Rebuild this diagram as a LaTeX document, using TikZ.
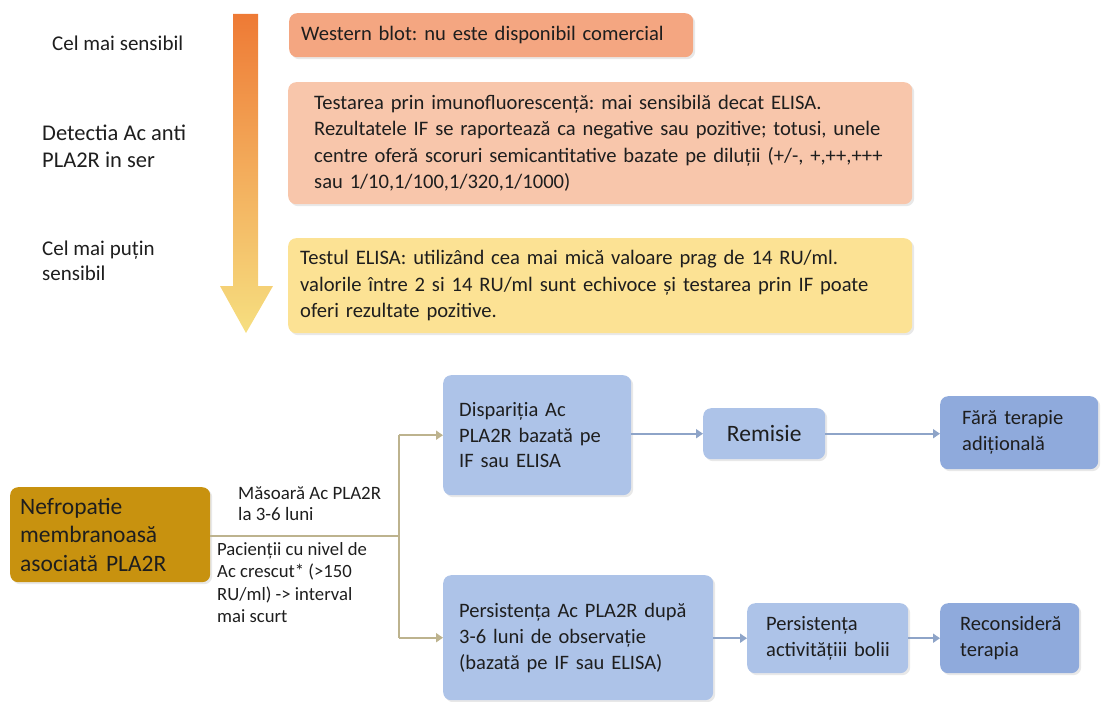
\documentclass[tikz,border=0pt]{standalone}
\usepackage{fontspec}
\setmainfont{Carlito}
\frenchspacing
\usetikzlibrary{arrows.meta,shadows}
\definecolor{ink}{HTML}{1E1E1E}
\definecolor{arrtop}{HTML}{EE7A35}
\definecolor{arrmid}{HTML}{F3AD5C}
\definecolor{arrbot}{HTML}{F6DF80}
\definecolor{wbfill}{HTML}{F4A681}
\definecolor{iffill}{HTML}{F8C6AB}
\definecolor{elfill}{HTML}{FCE294}
\definecolor{nmfill}{HTML}{C8920F}
\definecolor{lblue}{HTML}{ADC3E8}
\definecolor{dblue}{HTML}{8FAADC}
\definecolor{barrow}{HTML}{8EA4C8}
\definecolor{tan}{HTML}{BDB38E}
\begin{document}
\begin{tikzpicture}[x=1pt,y=-1pt,
  box/.style={rounded corners=8pt, anchor=north west, align=left, text=ink,
    inner ysep=0pt, drop shadow={opacity=0.18, shadow xshift=2pt, shadow yshift=-2pt}},
  toptext/.style={font=\fontsize{20.6}{26.6}\selectfont},
  flowtext/.style={font=\fontsize{20.5}{26}\selectfont},
  lbl/.style={anchor=north west, align=left, text=ink, inner sep=0pt},
  tanline/.style={draw=tan, line width=2.4pt},
  tanarrow/.style={tanline, -{Triangle[length=7pt,width=9pt]}},
  bluearrow/.style={draw=barrow, line width=2.4pt, -{Triangle[length=7pt,width=9pt]}}
]
\useasboundingbox (0,0) rectangle (1102,701);

% sensitivity gradient arrow
\shade[top color=arrtop, bottom color=arrbot, middle color=arrmid]
  (233,14) -- (258,14) -- (258,286) -- (273,286) -- (246,333) -- (220,286) -- (233,286) -- cycle;

% left labels
\node[lbl, font=\fontsize{21}{25}\selectfont] (most) at (52,36) {Cel mai sensibil};
\node[lbl, font=\fontsize{22.5}{26.5}\selectfont] (detect) at (42,125) {Detectia Ac anti\\PLA2R in ser};
\node[lbl, font=\fontsize{21}{25}\selectfont] (least) at (42,241) {Cel mai puțin\\sensibil};

% test boxes
\node[box, toptext, fill=wbfill, minimum width=400pt, minimum height=44pt,
  text width=380pt, inner xsep=12pt] (wb) at (289,13)
  {\raisebox{4pt}{Western blot: nu este disponibil comercial}};
\node[box, toptext, fill=iffill, minimum width=624pt, minimum height=122pt,
  text width=572pt, inner xsep=26pt] (ifbox) at (288,82)
  {Testarea prin imunofluorescență: mai sensibilă decat ELISA.\\
   Rezultatele IF se raportează ca negative sau pozitive; totusi, unele\\
   centre oferă scoruri semicantitative bazate pe diluții (+/-, +,++,+++\\
   sau 1/10,1/100,1/320,1/1000)};
\node[box, toptext, fill=elfill, minimum width=624pt, minimum height=95pt,
  text width=600pt, inner xsep=12pt] (elisa) at (288,238)
  {Testul ELISA: utilizând cea mai mică valoare prag de 14 RU/ml.\\
   valorile între 2 si 14 RU/ml sunt echivoce și testarea prin IF poate\\
   oferi rezultate pozitive.};

% follow-up flow
\node[box, fill=nmfill, font=\fontsize{23.5}{28.5}\selectfont, minimum width=198pt,
  minimum height=95pt, text width=180pt, inner xsep=10pt] (nm) at (10,487)
  {Nefropatie\\membranoasă\\asociată PLA2R};

\node[box, fill=lblue, font=\fontsize{20.5}{25.3}\selectfont, minimum width=188pt,
  minimum height=120pt, text width=156pt, inner xsep=16pt] (disp) at (443,375)
  {Dispariția Ac\\PLA2R bazată pe\\IF sau ELISA};
\node[box, fill=lblue, font=\fontsize{23.5}{28}\selectfont, minimum width=122pt,
  minimum height=51pt, text width=122pt, inner xsep=0pt, align=center] (rem) at (703,408)
  {Remisie};
\node[box, flowtext, fill=dblue, minimum width=158pt, minimum height=73pt,
  text width=114pt, inner xsep=22pt] (fara) at (940,396)
  {Fără terapie\\adițională};

\node[box, flowtext, fill=lblue, minimum width=270pt, minimum height=125pt,
  text width=238pt, inner xsep=16pt] (pers) at (443,575)
  {Persistența Ac PLA2R după\\3-6 luni de observație\\(bazată pe IF sau ELISA)};
\node[box, flowtext, fill=lblue, minimum width=161pt, minimum height=70pt,
  text width=123pt, inner xsep=19pt] (act) at (747,603)
  {Persistența\\\mbox{activitățiii bolii}};
\node[box, flowtext, fill=dblue, minimum width=139pt, minimum height=70pt,
  text width=99pt, inner xsep=20pt] (rec) at (940,603)
  {\mbox{Reconsideră}\\terapia};

% branching connector
\coordinate (split) at (399,536);
\draw[tanline] (nm.east |- split) -- (split);
\draw[tanline] (split) -- (split |- disp.west);
\draw[tanline] (split) -- (split |- pers.west);
\draw[tanarrow] (split |- disp.west) -- (disp.west);
\draw[tanarrow] (split |- pers.west) -- (pers.west);

\node[lbl, font=\fontsize{18.9}{21}\selectfont] (measure) at (238,487)
  {Măsoară Ac PLA2R\\la 3-6 luni};
\node[lbl, font=\fontsize{18.7}{22.5}\selectfont] (high) at (217,542)
  {Pacienții cu nivel de\\Ac crescut* (>150\\RU/ml) -> interval\\mai scurt};

% outcome arrows
\draw[bluearrow] (disp.east |- rem.west) -- (rem.west);
\draw[bluearrow] (rem.east) -- (fara.west |- rem.east);
\draw[bluearrow] (pers.east |- act.west) -- (act.west);
\draw[bluearrow] (act.east) -- (rec.west);
\end{tikzpicture}
\end{document}
